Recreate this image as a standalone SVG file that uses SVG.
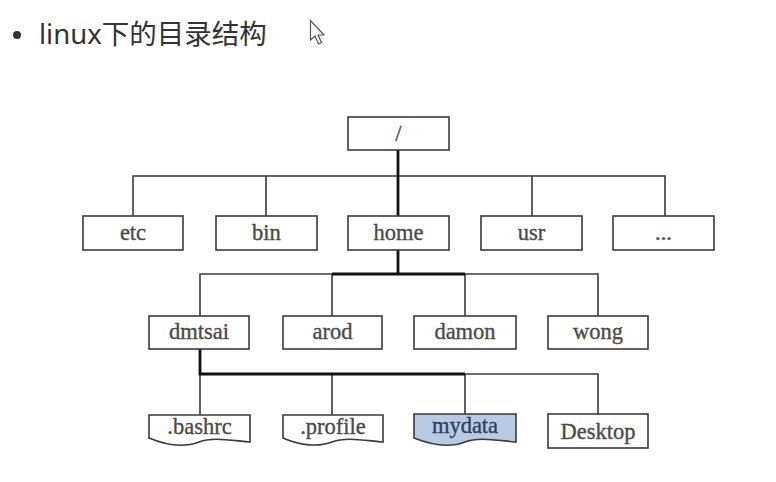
<svg xmlns="http://www.w3.org/2000/svg" width="776" height="482" viewBox="0 0 776 482">
<style>
.box{fill:#fff;stroke:#3a3a3a;stroke-width:1.6}
.doc{fill:#fff;stroke:#3a3a3a;stroke-width:1.6}
.sel{fill:#b9cbe3}
.lbl{font-family:"Liberation Serif","DejaVu Serif",serif;font-size:22.5px;fill:#4a4a4a;stroke:#4a4a4a;stroke-width:0.35;text-anchor:middle}
.ln{fill:none;stroke:#3a3a3a;stroke-width:1.6}
.bold{fill:none;stroke:#111;stroke-width:2.8}
.title{font-family:"Noto Sans","Noto Sans CJK SC",sans-serif;font-size:27.5px;fill:#333}
</style>
<rect width="776" height="482" fill="#fff"/>
<g id="title">
<circle cx="17" cy="35" r="4" fill="#333"/>
<text class="title" x="39" y="44">linux下的目录结构</text>
</g>
<g id="cursor">
<path d="M310.5,20.5 L310.5,40 L315,36 L318.5,44 L321.5,42.5 L318,35 L324,35 Z" fill="#fff" stroke="#555" stroke-width="1.2"/>
</g>
<g id="connectors">
<path class="ln" d="M133,216 V176 H665 V216 M266,176 V216 M532,176 V216"/>
<path class="bold" d="M398,150 V216"/>
<path class="ln" d="M200,316 V274 H598 V316 M332,274 V316 M465,274 V316"/>
<path class="bold" d="M398,250 V274 M332,274 H465"/>
<path class="ln" d="M200,415 V374 H598 V414 M332,374 V415 M465,374 V414"/>
<path class="bold" d="M200,349 V374 H465"/>
</g>
<g id="n-root"><rect class="box" x="348" y="117" width="101" height="33"/><text class="lbl" x="398.5" y="141">/</text></g>
<g id="n-etc"><rect class="box" x="83" y="216" width="100" height="34"/><text class="lbl" x="133" y="240">etc</text></g>
<g id="n-bin"><rect class="box" x="216" y="216" width="101" height="34"/><text class="lbl" x="266.5" y="240">bin</text></g>
<g id="n-home"><rect class="box" x="348" y="216" width="101" height="34"/><text class="lbl" x="398.5" y="240">home</text></g>
<g id="n-usr"><rect class="box" x="481" y="216" width="101" height="34"/><text class="lbl" x="531.5" y="240">usr</text></g>
<g id="n-more"><rect class="box" x="613" y="216" width="101" height="34"/><text class="lbl" x="663.5" y="240">...</text></g>
<g id="n-dmtsai"><rect class="box" x="149" y="316" width="100" height="33"/><text class="lbl" x="199" y="339">dmtsai</text></g>
<g id="n-arod"><rect class="box" x="283" y="316" width="99" height="33"/><text class="lbl" x="332.5" y="339">arod</text></g>
<g id="n-damon"><rect class="box" x="414" y="316" width="102" height="33"/><text class="lbl" x="465" y="339">damon</text></g>
<g id="n-wong"><rect class="box" x="548" y="316" width="100" height="33"/><text class="lbl" x="598" y="339">wong</text></g>
<g id="n-bashrc"><path class="doc" d="M149,415 H250 V442 C228,440 212,437 199,442 C186,447 168,446 149,438 Z"/><text class="lbl" x="199.5" y="434">.bashrc</text></g>
<g id="n-profile"><path class="doc" d="M283,415 H383 V442 C361,440 345,437 332,442 C319,447 301,446 283,438 Z"/><text class="lbl" x="333" y="434">.profile</text></g>
<g id="n-mydata"><path class="doc sel" d="M414,414 H516 V442 C494,440 478,437 465,442 C452,447 434,446 414,438 Z"/><text class="lbl" x="465" y="433" style="fill:#2f3f5f;stroke:#2f3f5f">mydata</text></g>
<g id="n-desktop"><rect class="box" x="548" y="414" width="100" height="34"/><text class="lbl" x="598" y="439">Desktop</text></g>
</svg>
